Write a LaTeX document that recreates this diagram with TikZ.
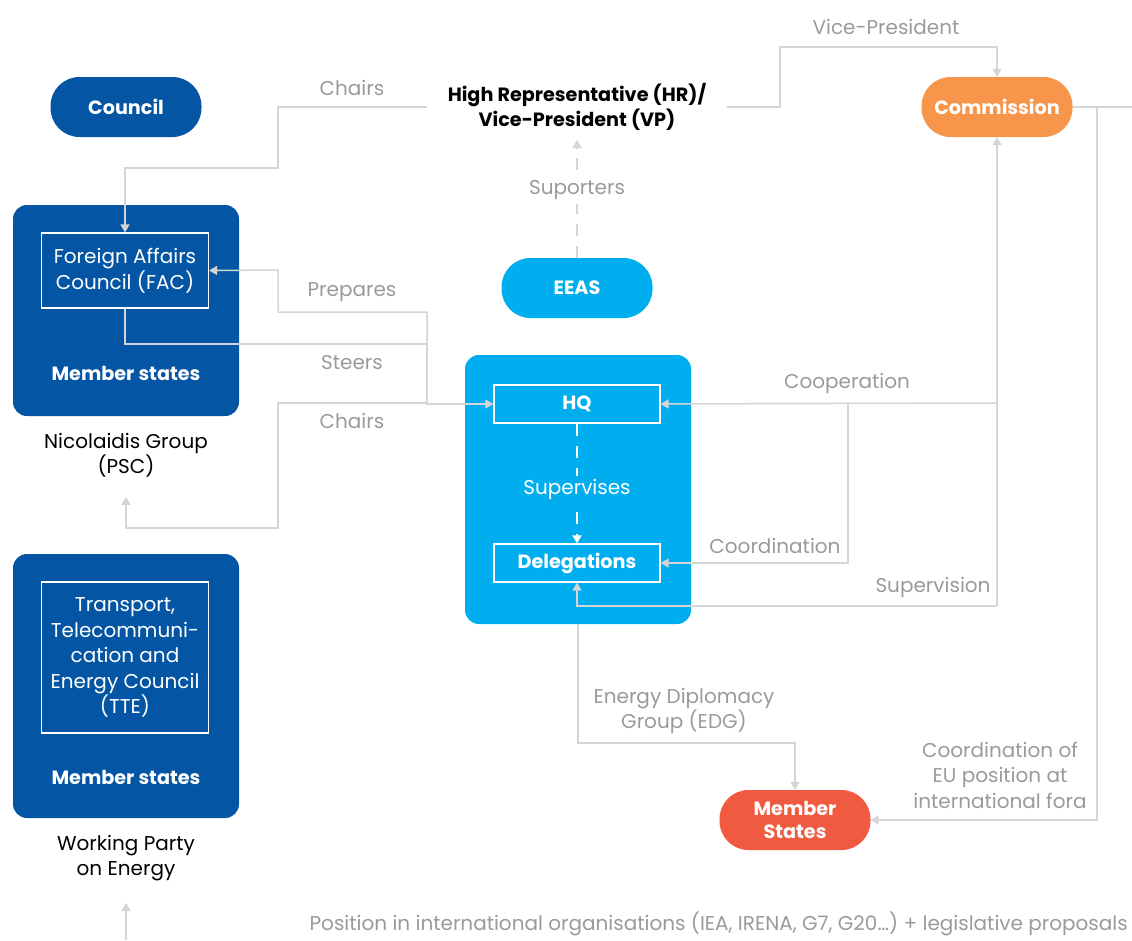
\documentclass[tikz,border=0pt]{standalone}
\usepackage{fontspec}
\setmainfont{Poppins}
\usetikzlibrary{arrows.meta}
\definecolor{dblue}{HTML}{0455A3}
\definecolor{lblue}{HTML}{00AEEF}
\definecolor{orng}{HTML}{F7964A}
\definecolor{redo}{HTML}{F05A40}
\definecolor{lgrey}{HTML}{D5D5D5}
\definecolor{tgrey}{HTML}{9A9A9A}
\newcommand{\fnt}{\fontsize{20}{25.5}\selectfont}
\newcommand{\bfnt}{\fontsize{19.2}{25.5}\selectfont\bfseries}
\begin{document}
\begin{tikzpicture}[x=1pt,y=-1pt,
 pill/.style={rounded corners=29pt, minimum width=151pt, minimum height=60pt, text=white, font=\bfnt, align=center, inner sep=0pt},
 bigbox/.style={fill=#1, rounded corners=14pt, inner sep=0pt},
 inbox/.style={draw=white, line width=1.2pt, text=white, align=center, inner sep=0pt, font=\fnt},
 lbl/.style={text=tgrey, font=\fnt, align=center, inner sep=1pt},
 wtxt/.style={text=white, font=\bfnt, align=center, inner sep=0pt},
 btxt/.style={text=black, font=\fnt, align=center, inner sep=0pt},
 conn/.style={draw=lgrey, line width=1.5pt, -{Triangle[width=9pt,length=8pt]}},
 plain/.style={draw=lgrey, line width=1.5pt}
]
\useasboundingbox (0,0) rectangle (1132,940);
% main nodes
\node[pill, fill=dblue] (council) at (126,107) {Council};
\node[btxt, font=\bfnt, inner xsep=21pt] (hr) at (577,107) {High Representative (HR)/\\Vice-President (VP)};
\node[pill, fill=orng] (comm) at (997,107) {Commission};
\node[pill, fill=lblue] (eeas) at (577,288) {EEAS};
\node[pill, fill=redo, font=\fontsize{19.2}{23}\selectfont\bfseries] (ms) at (795,820) {Member\\States};
\coordinate (hrb) at (577,140);
% left boxes
\node[bigbox=dblue, minimum width=226pt, minimum height=211pt] (pscbox) at (126,310.5) {};
\node[inbox, minimum width=167pt, minimum height=75pt] (fac) at (125,270.5) {Foreign Affairs\\Council (FAC)};
\node[wtxt] (ms1) at (126,373) {Member states};
\node[btxt] (psc) at (126,455) {Nicolaidis Group\\(PSC)};
\coordinate (pscb) at (126,497);
\node[bigbox=dblue, minimum width=226pt, minimum height=264pt] (ttebox) at (126,686) {};
\node[inbox, minimum width=167pt, minimum height=151pt] (tte) at (125,657.5) {Transport,\\Telecommuni-\\cation and\\Energy Council\\(TTE)};
\node[wtxt] (ms2) at (126,777) {Member states};
\node[btxt] (wp) at (126,858) {Working Party\\on Energy};
\coordinate (wpb) at (126,903);
\coordinate (wpin) at (126,940);
% EEAS container
\node[bigbox=lblue, minimum width=226pt, minimum height=269pt] (eeasbox) at (578,489.5) {};
\node[inbox, font=\bfnt, minimum width=166pt, minimum height=38pt] (hq) at (577,404) {HQ};
\node[inbox, font=\bfnt, minimum width=166pt, minimum height=38pt] (del) at (577,563) {Delegations};
% connectors top
\draw[conn] (hr.west) -| (278,168) -| (fac.north);
\node[lbl] at (352,88) {Chairs};
\draw[conn] (hr.east) -| (780,47) -| (comm.north);
\node[lbl] at (886,27) {Vice-President};
\coordinate (cr) at (1132,107);
\draw[plain] (comm.east) -- (cr);
\draw[conn] (1097,107) |- (ms.east);
\node[lbl] at (1000,775) {Coordination of\\EU position at\\international fora};
\draw[conn, dash pattern=on 12pt off 10pt] (eeas.north) -- (hrb);
\node[lbl, fill=white, inner sep=4pt] at (577,190) {Suporters};
% right connectors
\draw[conn] (997,606) -- (comm.south);
\draw[conn] (997,403) -- (hq.east);
\node[lbl] at (847,383) {Cooperation};
\draw[conn] (848,403) |- (del.east);
\node[lbl] at (775,546) {Coordination};
\draw[conn] (997,606) -| (del.south);
\node[lbl] at (933,587) {Supervision};
% internal
\draw[draw=white, line width=1.5pt, dash pattern=on 12pt off 10pt, -{Triangle[width=9pt,length=8pt]}] (hq.south) -- (del.north);
\node[wtxt, font=\fnt, fill=lblue, inner sep=3pt] at (577,489) {Supervises};
% EDG
\draw[conn] (eeasbox.south) |- (795,743) -- (ms.north);
\node[lbl] at (684,711) {Energy Diplomacy\\Group (EDG)};
% left connectors
\draw[conn] (fac.south) |- (427,344) |- (hq.west);
\node[lbl] at (352,363) {Steers};
\draw[conn] (427,403) -- (427,312) -| (278,270) -- (fac.east);
\node[lbl] at (352,292) {Prepares};
\draw[conn] (427,403) -- (278,403) |- (126,528) -- (pscb);
\node[lbl] at (352,421) {Chairs};
\draw[conn] (wpin) -- (wpb);
\node[lbl, anchor=east] at (1129,924) {Position in international organisations (IEA, IRENA, G7, G20…) + legislative proposals};
\end{tikzpicture}
\end{document}
